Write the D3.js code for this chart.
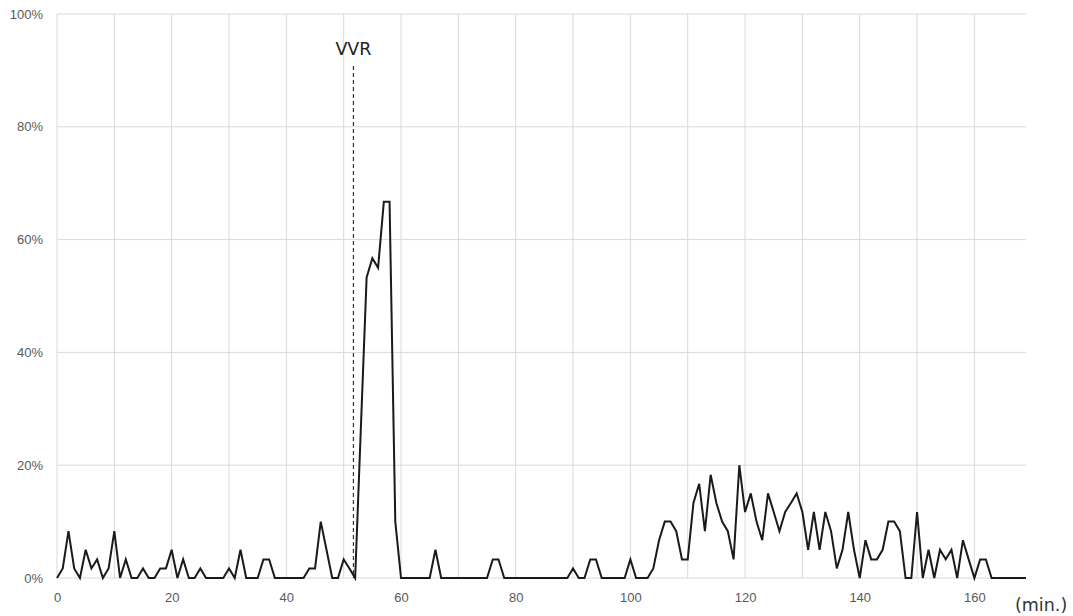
<!DOCTYPE html>
<html>
<head>
<meta charset="utf-8">
<script src="https://cdn.jsdelivr.net/npm/d3@7"></script>
<style>
  body { margin: 0; background: #fff; }
  svg { display: block; font-family: "Noto Sans CJK JP", "Noto Sans", sans-serif; }
  .grid line { stroke: #d9d9d9; stroke-width: 1; }
  .axis text { fill: #595959; font-size: 13px; }
  .axis path { display: none; }
  .note { font-family: "DejaVu Sans", sans-serif; }
</style>
</head>
<body>
<script>
// minutes 0..169, share of time in percent
const minutes = d3.range(0, 170);
const values = [
  0, 1.7, 8.3, 1.7, 0, 5, 1.7, 3.3, 0, 1.7,
  8.3, 0, 3.3, 0, 0, 1.7, 0, 0, 1.7, 1.7,
  5, 0, 3.3, 0, 0, 1.7, 0, 0, 0, 0,
  1.7, 0, 5, 0, 0, 0, 3.3, 3.3, 0, 0,
  0, 0, 0, 0, 1.7, 1.7, 10, 5, 0, 0,
  3.3, 1.7, 0, 26.7, 53.3, 56.7, 55, 66.7, 66.7, 10,
  0, 0, 0, 0, 0, 0, 5, 0, 0, 0,
  0, 0, 0, 0, 0, 0, 3.3, 3.3, 0, 0,
  0, 0, 0, 0, 0, 0, 0, 0, 0, 0,
  1.7, 0, 0, 3.3, 3.3, 0, 0, 0, 0, 0,
  3.3, 0, 0, 0, 1.7, 6.7, 10, 10, 8.3, 3.3,
  3.3, 13.3, 16.7, 8.3, 18.3, 13.3, 10, 8.3, 3.3, 20,
  11.7, 15, 10, 6.7, 15, 11.7, 8.3, 11.7, 13.3, 15,
  11.7, 5, 11.7, 5, 11.7, 8.3, 1.7, 5, 11.7, 5,
  0, 6.7, 3.3, 3.3, 5, 10, 10, 8.3, 0, 0,
  11.7, 0, 5, 0, 5, 3.3, 5, 0, 6.7, 3.3,
  0, 3.3, 3.3, 0, 0, 0, 0, 0, 0, 0
];
const xTicks = [0, 20, 40, 60, 80, 100, 120, 140, 160];
const xGrid = d3.range(0, 170, 10);
const yTicks = [0, 20, 40, 60, 80, 100];
const vvrAt = 51.7;
const vvrLabel = 'VVR';
const unitLabel = '(min.)';

const width = 1073, height = 616;
const margin = { top: 14, right: 47, bottom: 38, left: 57 };

const svg = d3.select('body').append('svg')
  .attr('width', width).attr('height', height);

const x = d3.scaleLinear().domain([0, 169]).range([margin.left, width - margin.right]);
const y = d3.scaleLinear().domain([0, 100]).range([height - margin.bottom, margin.top]);

// gridlines
const grid = svg.append('g').attr('class', 'grid');
grid.selectAll('.h').data(yTicks).join('line')
  .attr('x1', x(0)).attr('x2', x(169))
  .attr('y1', d => y(d)).attr('y2', d => y(d));
grid.selectAll('.v').data(xGrid).join('line')
  .attr('x1', d => x(d)).attr('x2', d => x(d))
  .attr('y1', y(0)).attr('y2', y(100));

// axes
svg.append('g').attr('class', 'axis')
  .attr('transform', `translate(0,${y(0)})`)
  .call(d3.axisBottom(x).tickValues(xTicks).tickSize(0).tickPadding(15));
svg.append('g').attr('class', 'axis')
  .attr('transform', `translate(${margin.left},0)`)
  .call(d3.axisLeft(y).tickValues(yTicks).tickSize(0).tickPadding(14).tickFormat(d => d + '%'));

// VVR marker
svg.append('line')
  .attr('x1', x(vvrAt)).attr('x2', x(vvrAt))
  .attr('y1', 66).attr('y2', y(0))
  .attr('stroke', '#333').attr('stroke-width', 1.2)
  .attr('stroke-dasharray', '4,3');
svg.append('text')
  .attr('class', 'note')
  .attr('x', x(vvrAt)).attr('y', 55)
  .attr('text-anchor', 'middle')
  .attr('font-size', 17.5).attr('fill', '#222')
  .text(vvrLabel);

// series
const line = d3.line().x((d, i) => x(minutes[i])).y(d => y(d));
svg.append('path')
  .datum(values)
  .attr('d', line)
  .attr('fill', 'none')
  .attr('stroke', '#1a1a1a')
  .attr('stroke-width', 2)
  .attr('stroke-linejoin', 'miter');

svg.append('text')
  .attr('class', 'note')
  .attr('x', 1015).attr('y', 611)
  .attr('font-size', 17.5).attr('fill', '#333')
  .text(unitLabel);
</script>
</body>
</html>
